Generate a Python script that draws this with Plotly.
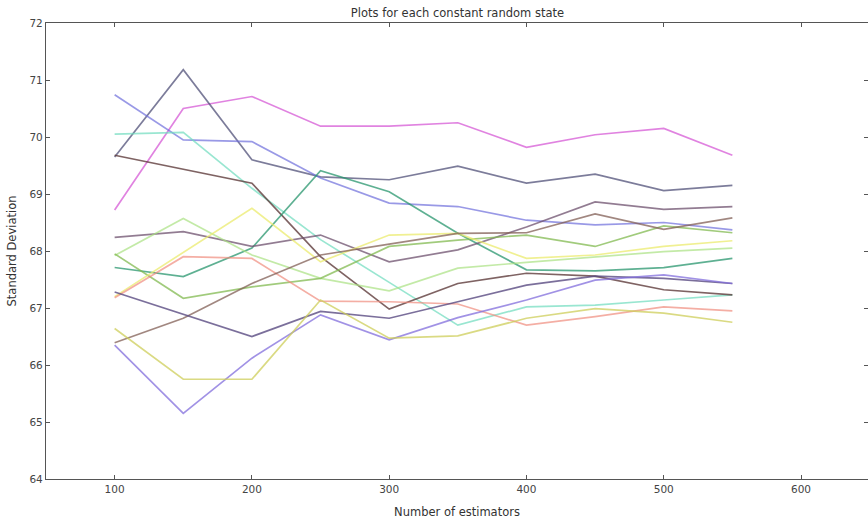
import plotly.graph_objects as go

# Number of estimators evaluated for every random state
n_estimators = [100, 150, 200, 250, 300, 350, 400, 450, 500, 550]

# Standard deviation per random state (one list per constant random state)
state_magenta = [68.72, 70.50, 70.71, 70.19, 70.19, 70.25, 69.82, 70.04, 70.15, 69.68]
state_slate = [69.65, 71.18, 69.60, 69.30, 69.25, 69.49, 69.19, 69.35, 69.06, 69.15]
state_blue = [70.74, 69.95, 69.92, 69.28, 68.84, 68.78, 68.54, 68.46, 68.50, 68.37]
state_aqua = [70.05, 70.08, 69.10, 68.20, 67.45, 66.70, 67.02, 67.05, 67.14, 67.23]
state_dark = [69.68, 69.44, 69.19, 67.90, 66.98, 67.43, 67.61, 67.56, 67.32, 67.23]
state_teal = [67.71, 67.55, 68.05, 69.41, 69.04, 68.31, 67.67, 67.65, 67.71, 67.87]
state_mauve = [68.24, 68.34, 68.08, 68.28, 67.81, 68.02, 68.42, 68.86, 68.73, 68.78]
state_lightgreen = [67.92, 68.57, 67.93, 67.52, 67.30, 67.70, 67.80, 67.89, 67.99, 68.05]
state_green = [67.95, 67.17, 67.37, 67.52, 68.08, 68.19, 68.28, 68.08, 68.44, 68.32]
state_yellow = [67.20, 67.97, 68.75, 67.81, 68.28, 68.31, 67.87, 67.93, 68.08, 68.18]
state_salmon = [67.18, 67.90, 67.87, 67.12, 67.11, 67.07, 66.70, 66.85, 67.02, 66.95]
state_brown = [66.39, 66.82, 67.43, 67.93, 68.12, 68.31, 68.32, 68.65, 68.38, 68.58]
state_purple = [67.28, 66.89, 66.50, 66.94, 66.82, 67.11, 67.40, 67.56, 67.52, 67.43]
state_lavender = [66.35, 65.15, 66.12, 66.88, 66.44, 66.83, 67.14, 67.49, 67.58, 67.43]
state_olive = [66.64, 65.75, 65.75, 67.14, 66.47, 66.51, 66.82, 66.99, 66.91, 66.75]

x_ticks = [100, 200, 300, 400, 500, 600]
y_ticks = [64, 65, 66, 67, 68, 69, 70, 71, 72]

series = [
    (state_magenta, "rgba(214,90,214,0.75)"),
    (state_slate, "rgba(80,80,120,0.75)"),
    (state_blue, "rgba(110,110,220,0.7)"),
    (state_aqua, "rgba(110,220,190,0.7)"),
    (state_dark, "rgba(95,60,60,0.8)"),
    (state_teal, "rgba(40,150,110,0.75)"),
    (state_mauve, "rgba(110,80,110,0.75)"),
    (state_lightgreen, "rgba(170,225,130,0.7)"),
    (state_green, "rgba(130,185,80,0.75)"),
    (state_yellow, "rgba(235,235,110,0.75)"),
    (state_salmon, "rgba(240,140,125,0.7)"),
    (state_brown, "rgba(130,95,85,0.75)"),
    (state_purple, "rgba(90,75,130,0.8)"),
    (state_lavender, "rgba(130,110,220,0.75)"),
    (state_olive, "rgba(205,205,90,0.75)"),
]

fig = go.Figure()
for values, color in series:
    fig.add_trace(go.Scatter(
        x=n_estimators, y=values, mode="lines",
        line=dict(color=color, width=1.7),
        showlegend=False, hoverinfo="skip",
    ))

axis_common = dict(
    showline=True, linecolor="#555555", linewidth=1.2, mirror="ticks",
    ticks="inside", ticklen=4, tickcolor="#555555",
    showgrid=False, zeroline=False,
    tickfont=dict(family="DejaVu Sans", size=10.5, color="#444444"),
)

fig.update_layout(
    width=868, height=520,
    margin=dict(l=46, r=0, t=23, b=41),
    paper_bgcolor="white", plot_bgcolor="white",
    title=dict(
        text="Plots for each constant random state",
        font=dict(family="DejaVu Sans", size=11.5, color="#333333"),
        x=0.527, xanchor="center", y=1 - 13 / 520, yanchor="middle",
    ),
    xaxis=dict(
        range=[50, 648.8], tickvals=x_ticks,
        title=dict(text="Number of estimators", standoff=14,
                   font=dict(family="DejaVu Sans", size=11.5, color="#333333")),
        **axis_common,
    ),
    yaxis=dict(
        range=[64, 72], tickvals=y_ticks,
        title=dict(text="Standard Deviation", standoff=10,
                   font=dict(family="DejaVu Sans", size=11.5, color="#333333")),
        **axis_common,
    ),
)

fig.write_html("out.html")
